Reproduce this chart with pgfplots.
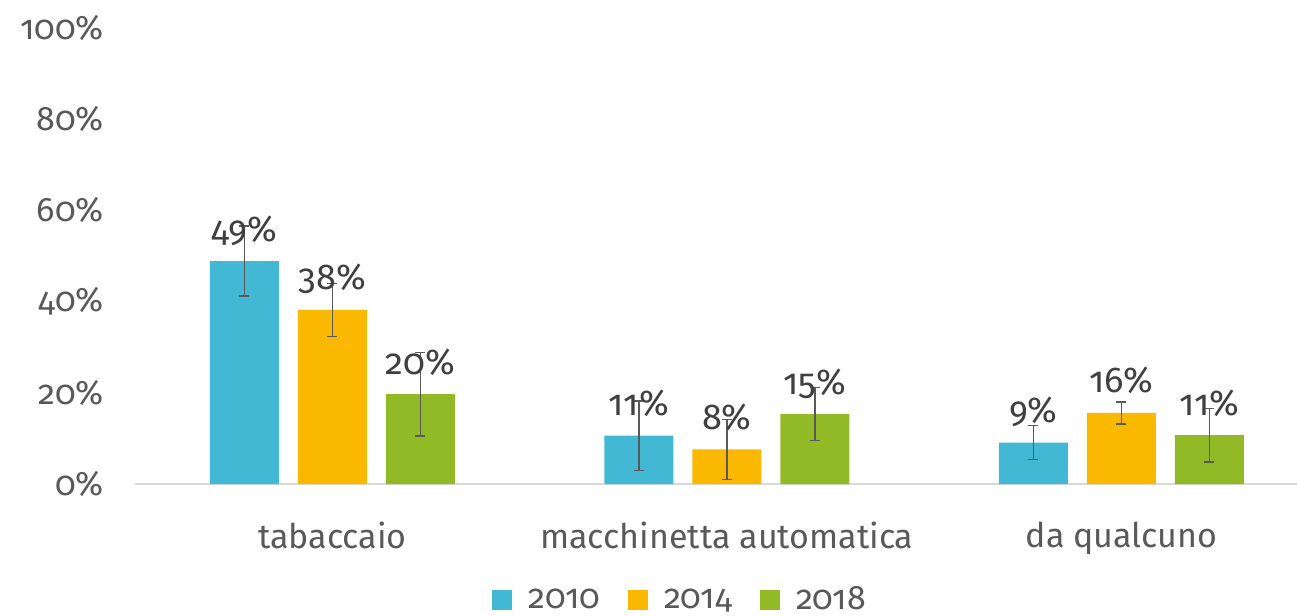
\documentclass[border=0pt]{standalone}
\usepackage{pgfplots}
\pgfplotsset{compat=1.18}
\usepackage{fontspec}
\setmainfont{Fira Sans}[Numbers=OldStyle]
\definecolor{c2010}{RGB}{66,184,212}
\definecolor{c2014}{RGB}{250,184,0}
\definecolor{c2018}{RGB}{146,186,38}
\definecolor{txt}{RGB}{89,89,89}
\definecolor{lbl}{RGB}{64,64,64}
\definecolor{base}{RGB}{217,217,217}
\newcommand{\chartfont}{\fontsize{17}{20}\selectfont}
\newcommand{\labelfont}{\fontsize{18}{20}\selectfont}
\begin{document}
\begin{tikzpicture}
\path[use as bounding box] (-67.5pt,-66pt) rectangle (581pt,242pt);
\begin{axis}[
  at={(0,0)}, anchor=south west,
  scale only axis,
  width=581pt, height=228pt,
  xmin=-0.5, xmax=2.445,
  ymin=0, ymax=100,
  enlargelimits=false,
  ybar=9.5pt, bar width=34.5pt,
  axis x line*=bottom, axis y line*=left,
  x axis line style={draw=base, line width=0.8pt},
  y axis line style={draw=none},
  tick style={draw=none},
  xtick={0,1,2},
  xticklabels={tabaccaio, macchinetta automatica, da qualcuno},
  xticklabel style={font=\chartfont, text=txt, yshift=-11pt},
  ytick={0,20,40,60,80,100},
  yticklabels={0\%,20\%,40\%,60\%,80\%,100\%},
  yticklabel style={font=\chartfont, text=txt, xshift=-12pt},
  /pgf/number format/assume math mode=true,
  nodes near coords={\pgfmathprintnumber[fixed,precision=0]{\pgfplotspointmeta}\%},
  every node near coord/.append style={font=\labelfont, text=lbl, anchor=base, inner sep=0pt, yshift=10pt},
  error bars/y dir=both, error bars/y explicit,
  error bars/error bar style={draw=txt, line width=0.7pt},
  error bars/error mark options={rotate=90, draw=txt, mark size=2.5pt, line width=0.7pt},
  legend columns=3,
  legend style={at={(0.47,-0.254)}, anchor=center, draw=none, fill=none,
    font=\chartfont, text=txt, inner sep=0pt,
    /tikz/every odd column/.append style={column sep=6pt},
    /tikz/every even column/.append style={column sep=12pt}},
  legend image code/.code={\fill[#1] (0pt,-5pt) rectangle (10pt,5pt);},
]
\addplot[fill=c2010, draw=none] coordinates {
  (0,48.9) +- (0,7.7)
  (1,10.6) +- (0,7.6)
  (2,9.1)  +- (0,3.7)
};
\addplot[fill=c2014, draw=none] coordinates {
  (0,38.2) +- (0,5.8)
  (1,7.6)  +- (0,6.6)
  (2,15.6) +- (0,2.4)
};
\addplot[fill=c2018, draw=none] coordinates {
  (0,19.7) +- (0,9.2)
  (1,15.3) +- (0,5.8)
  (2,10.7) +- (0,5.9)
};
\legend{2010,2014,2018}
\end{axis}
\end{tikzpicture}
\end{document}
